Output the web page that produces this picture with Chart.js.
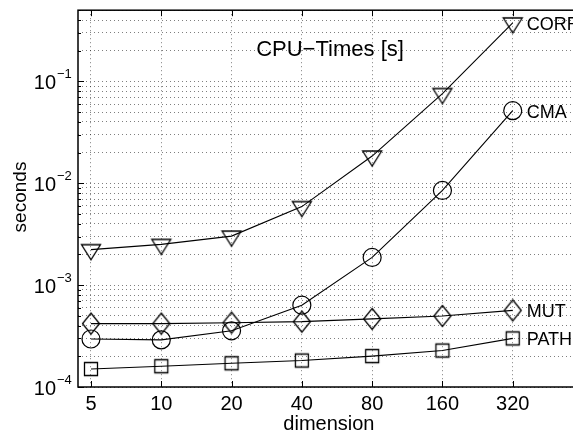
<!DOCTYPE html>
<html>
<head>
<meta charset="utf-8">
<title>CPU-Times</title>
<script src="https://cdn.jsdelivr.net/npm/chart.js@4/dist/chart.umd.min.js"></script>
<style>
  html, body { margin: 0; padding: 0; overflow: hidden; background: #fff; }
  #wrap { width: 590px; height: 432px; }
</style>
</head>
<body>
<div id="wrap"><canvas id="cpuChart" width="590" height="432"></canvas></div>
<script>
// data
const dims = [5, 10, 20, 40, 80, 160, 320]
const corr = [2.23e-3, 2.51e-3, 3.03e-3, 5.9e-3, 0.0185, 0.076, 0.375]
const cma = [2.96e-4, 2.9e-4, 3.56e-4, 6.35e-4, 1.87e-3, 8.5e-3, 0.0516]
const mut = [4.19e-4, 4.19e-4, 4.28e-4, 4.38e-4, 4.66e-4, 4.98e-4, 5.65e-4]
const path = [1.5e-4, 1.6e-4, 1.71e-4, 1.82e-4, 2.01e-4, 2.28e-4, 3.0e-4]
const seriesNames = ['CORR', 'CMA', 'MUT', 'PATH']
const xTicks = [5, 10, 20, 40, 80, 160, 320]
const yDecades = [-4, -3, -2, -1]

const FONT = "'Liberation Sans', Arial, Helvetica, sans-serif"

function markerCanvas(draw) {
    const c = document.createElement('canvas')
    c.width = 24
    c.height = 24
    const ctx = c.getContext('2d')
    ctx.strokeStyle = '#000'
    ctx.lineWidth = 1.3
    ctx.lineJoin = 'miter'
    ctx.beginPath()
    draw(ctx)
    ctx.stroke()
    return c
}

const triDown = markerCanvas(ctx => {
    ctx.moveTo(2.5, 7); ctx.lineTo(21.5, 7); ctx.lineTo(12, 22); ctx.closePath()
})
const diamond = markerCanvas(ctx => {
    ctx.moveTo(12, 1.5); ctx.lineTo(20.5, 12); ctx.lineTo(12, 22.5); ctx.lineTo(3.5, 12); ctx.closePath()
})
const square = markerCanvas(ctx => {
    ctx.rect(5.5, 5.5, 13, 13)
})

function pts(vals) {
    return dims.map((d, i) => ({ x: d, y: vals[i] }))
}

function series(label, vals, style) {
    return {
        label: label,
        data: pts(vals),
        borderColor: '#000',
        borderWidth: 1.1,
        backgroundColor: 'rgba(0,0,0,0)',
        pointStyle: style,
        pointRadius: 9,
        pointBorderWidth: 1.2,
        pointBorderColor: '#000',
        pointBackgroundColor: 'rgba(0,0,0,0)',
        tension: 0,
        clip: false
    }
}

// y grid at 1..9 x each decade, up to the top of the axis
const yGrid = []
yDecades.forEach(d => {
    for (let m = 1; m <= 9; m++) {
        const v = Number((m * Math.pow(10, d)).toPrecision(3))
        if (v <= 0.5) yGrid.push(v)
    }
})

const decorations = {
    id: 'decorations',
    afterDraw(chart) {
        const { ctx, chartArea: a, scales } = chart
        const xs = scales.x, ys = scales.y
        ctx.save()
        // frame
        ctx.strokeStyle = '#000'
        ctx.lineWidth = 1.5
        ctx.strokeRect(a.left, a.top, a.right - a.left, a.bottom - a.top)
        // inward ticks
        ctx.lineWidth = 1
        ctx.beginPath()
        xTicks.forEach(t => {
            const px = Math.round(xs.getPixelForValue(t)) + 0.5
            ctx.moveTo(px, a.bottom); ctx.lineTo(px, a.bottom - 6)
            ctx.moveTo(px, a.top); ctx.lineTo(px, a.top + 6)
        })
        yGrid.forEach(v => {
            const py = Math.round(ys.getPixelForValue(v)) + 0.5
            const major = Math.abs(Math.log10(v) - Math.round(Math.log10(v))) < 1e-6
            ctx.moveTo(a.left, py); ctx.lineTo(a.left + (major ? 6 : 3), py)
        })
        ctx.stroke()

        ctx.fillStyle = '#000'
        // x tick labels
        ctx.font = '20px ' + FONT
        ctx.textAlign = 'center'
        ctx.textBaseline = 'alphabetic'
        xTicks.forEach(t => {
            ctx.fillText(String(t), xs.getPixelForValue(t), a.bottom + 23)
        })
        // y tick labels 10^d
        yDecades.forEach(d => {
            const py = ys.getPixelForValue(Math.pow(10, d))
            ctx.font = '20px ' + FONT
            ctx.textAlign = 'right'
            ctx.fillText('10', 56, py + 8)
            ctx.font = '13px ' + FONT
            ctx.textAlign = 'left'
            ctx.fillText('\u2212' + Math.abs(d), 57, py - 3)
        })
        // axis titles
        ctx.font = '20px ' + FONT
        ctx.textAlign = 'center'
        ctx.fillText('dimension', (a.left + a.right) / 2, 430)
        ctx.save()
        ctx.translate(26, 197)
        ctx.rotate(-Math.PI / 2)
        ctx.font = '19px ' + FONT
        ctx.fillText('seconds', 0, 0)
        ctx.restore()
        // title inside the axes
        ctx.font = '22px ' + FONT
        ctx.fillText('CPU\u2212Times [s]', 330, 56)
        // series names next to the last point
        ctx.font = '18px ' + FONT
        ctx.textAlign = 'left'
        chart.data.datasets.forEach((ds, i) => {
            const last = chart.getDatasetMeta(i).data[dims.length - 1]
            ctx.fillText(seriesNames[i], last.x + 14, last.y + 7)
        })
        ctx.restore()
    }
}

const gridOpts = {
    color: 'rgba(0,0,0,0.5)',
    lineWidth: 1,
    drawTicks: false
}

new Chart(document.getElementById('cpuChart'), {
    type: 'line',
    data: {
        datasets: [
            series(seriesNames[0], corr, triDown),
            series(seriesNames[1], cma, 'circle'),
            series(seriesNames[2], mut, diamond),
            series(seriesNames[3], path, square)
        ]
    },
    options: {
        responsive: false,
        animation: false,
        events: [],
        layout: { padding: { left: 78, top: 5, right: 10, bottom: 45 } },
        plugins: {
            legend: { display: false },
            tooltip: { enabled: false }
        },
        scales: {
            x: {
                type: 'logarithmic',
                min: 4.4,
                max: 620,
                afterBuildTicks: scale => { scale.ticks = xTicks.map(v => ({ value: v })) },
                ticks: { display: false },
                grid: gridOpts,
                border: { display: false, dash: [1, 3] }
            },
            y: {
                type: 'logarithmic',
                min: 1e-4,
                max: 0.5,
                afterBuildTicks: scale => { scale.ticks = yGrid.map(v => ({ value: v })) },
                ticks: { display: false },
                grid: gridOpts,
                border: { display: false, dash: [1, 3] }
            }
        }
    },
    plugins: [decorations]
})
</script>
</body>
</html>
